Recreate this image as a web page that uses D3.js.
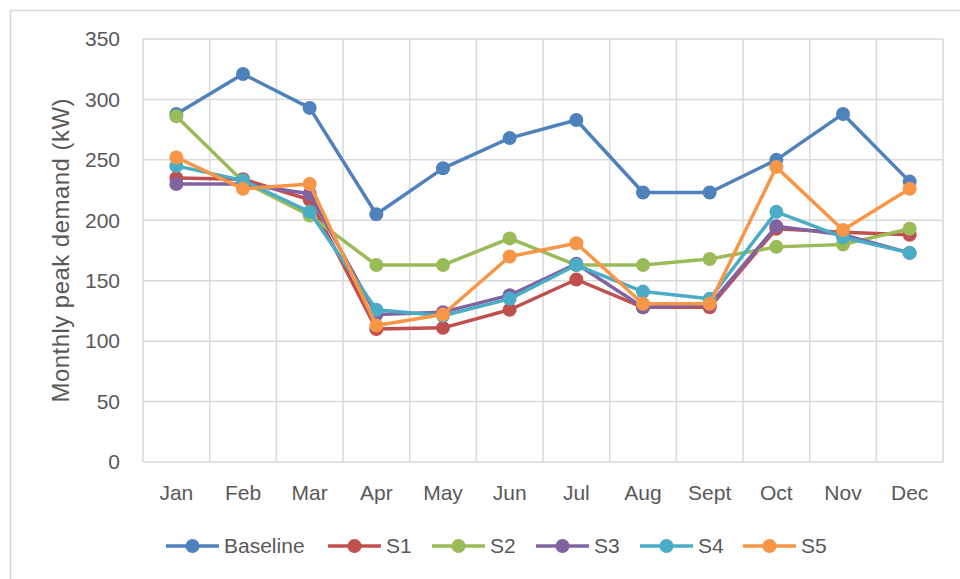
<!DOCTYPE html>
<html>
<head>
<meta charset="utf-8">
<script src="https://cdn.jsdelivr.net/npm/d3@7"></script>
<style>
  html, body { margin: 0; padding: 0; background: #fff; }
  svg { display: block; font-family: "Liberation Sans", Arial, sans-serif; }
</style>
</head>
<body>
<div id="chart"></div>
<script>
const months = ['Jan', 'Feb', 'Mar', 'Apr', 'May', 'Jun', 'Jul', 'Aug', 'Sept', 'Oct', 'Nov', 'Dec'];
const yTicks = [0, 50, 100, 150, 200, 250, 300, 350];

const baseline = [288, 321, 293, 205, 243, 268, 283, 223, 223, 250, 288, 232];
const s1 = [235, 234, 217, 110, 111, 126, 151, 128, 128, 193, 190, 188];
const s2 = [286, 232, 204, 163, 163, 185, 163, 163, 168, 178, 180, 193];
const s3 = [230, 230, 222, 122, 124, 138, 164, 128, 130, 195, 188, 173];
const s4 = [245, 233, 207, 126, 121, 135, 163, 141, 135, 207, 186, 173];
const s5 = [252, 226, 230, 113, 122, 170, 181, 131, 131, 244, 192, 226];

const seriesNames = ['Baseline', 'S1', 'S2', 'S3', 'S4', 'S5'];
const seriesValues = [baseline, s1, s2, s3, s4, s5];
const colors = ['#4F81BD', '#C0504D', '#9BBB59', '#8064A2', '#4BACC6', '#F79646'];

(function () {
    const width = 960;
    const height = 579;
    const plot = { left: 143, top: 39, right: 943, bottom: 462 };
    const textColor = '#595959';
    const gridColor = '#d9d9d9';

    const svg = d3.select('#chart').append('svg')
        .attr('width', width)
        .attr('height', height);

    // chart frame
    svg.append('rect')
        .attr('x', 10.5).attr('y', 10.5)
        .attr('width', 980).attr('height', 600)
        .attr('fill', 'none')
        .attr('stroke', gridColor)
        .attr('stroke-width', 1.5);

    const x = d3.scaleBand().domain(months).range([plot.left, plot.right]);
    const y = d3.scaleLinear().domain([0, 350]).range([plot.bottom, plot.top]);

    // Gridlines
    const grid = svg.append('g').attr('class', 'grid');
    grid.selectAll('line.h')
        .data(yTicks)
        .enter().append('line')
        .attr('class', 'h')
        .attr('x1', plot.left).attr('x2', plot.right)
        .attr('y1', d => y(d)).attr('y2', d => y(d))
        .attr('stroke', gridColor)
        .attr('stroke-width', 1.5);

    const bounds = months.map(m => x(m)).concat([plot.right]);
    grid.selectAll('line.v')
        .data(bounds)
        .enter().append('line')
        .attr('class', 'v')
        .attr('x1', d => d).attr('x2', d => d)
        .attr('y1', plot.top).attr('y2', plot.bottom)
        .attr('stroke', gridColor)
        .attr('stroke-width', 1.5);

    // Axis labels
    svg.append('g').selectAll('text')
        .data(yTicks)
        .enter().append('text')
        .attr('x', 120)
        .attr('y', d => y(d))
        .attr('dy', '0.35em')
        .attr('text-anchor', 'end')
        .attr('fill', textColor)
        .attr('font-size', 21)
        .text(d => d);

    svg.append('g').selectAll('text')
        .data(months)
        .enter().append('text')
        .attr('x', d => x(d) + x.bandwidth() / 2)
        .attr('y', 493)
        .attr('dy', '0.35em')
        .attr('text-anchor', 'middle')
        .attr('fill', textColor)
        .attr('font-size', 21)
        .text(d => d);

    svg.append('text')
        .attr('transform', `translate(61,${(plot.top + plot.bottom) / 2}) rotate(-90)`)
        .attr('text-anchor', 'middle')
        .attr('dy', '0.35em')
        .attr('fill', textColor)
        .attr('font-size', 24)
        .attr('textLength', 304)
        .attr('lengthAdjust', 'spacing')
        .text('Monthly peak demand (kW)');

    // Series
    const line = d3.line()
        .x((d, i) => x(months[i]) + x.bandwidth() / 2)
        .y(d => y(d));

    const seriesLayer = svg.append('g').attr('class', 'series');
    seriesValues.forEach((vals, si) => {
        const g = seriesLayer.append('g');
        g.append('path')
            .attr('d', line(vals))
            .attr('fill', 'none')
            .attr('stroke', colors[si])
            .attr('stroke-width', 3.5)
            .attr('stroke-linejoin', 'round');
        g.selectAll('circle')
            .data(vals)
            .enter().append('circle')
            .attr('cx', (d, i) => x(months[i]) + x.bandwidth() / 2)
            .attr('cy', d => y(d))
            .attr('r', 7)
            .attr('fill', colors[si]);
    });

    // Legend
    const legendX = [166, 328, 432, 536, 640, 743];
    const legendY = 546;
    const legend = svg.append('g').attr('class', 'legend');
    seriesNames.forEach((name, i) => {
        const lg = legend.append('g').attr('transform', `translate(${legendX[i]},${legendY})`);
        lg.append('line')
            .attr('x1', 0).attr('x2', 53)
            .attr('y1', 0).attr('y2', 0)
            .attr('stroke', colors[i])
            .attr('stroke-width', 3.5);
        lg.append('circle')
            .attr('cx', 26.5).attr('cy', 0)
            .attr('r', 7)
            .attr('fill', colors[i]);
        lg.append('text')
            .attr('x', 58)
            .attr('y', 0)
            .attr('dy', '0.35em')
            .attr('fill', textColor)
            .attr('font-size', 21)
            .text(name);
    });
})();
</script>
</body>
</html>
